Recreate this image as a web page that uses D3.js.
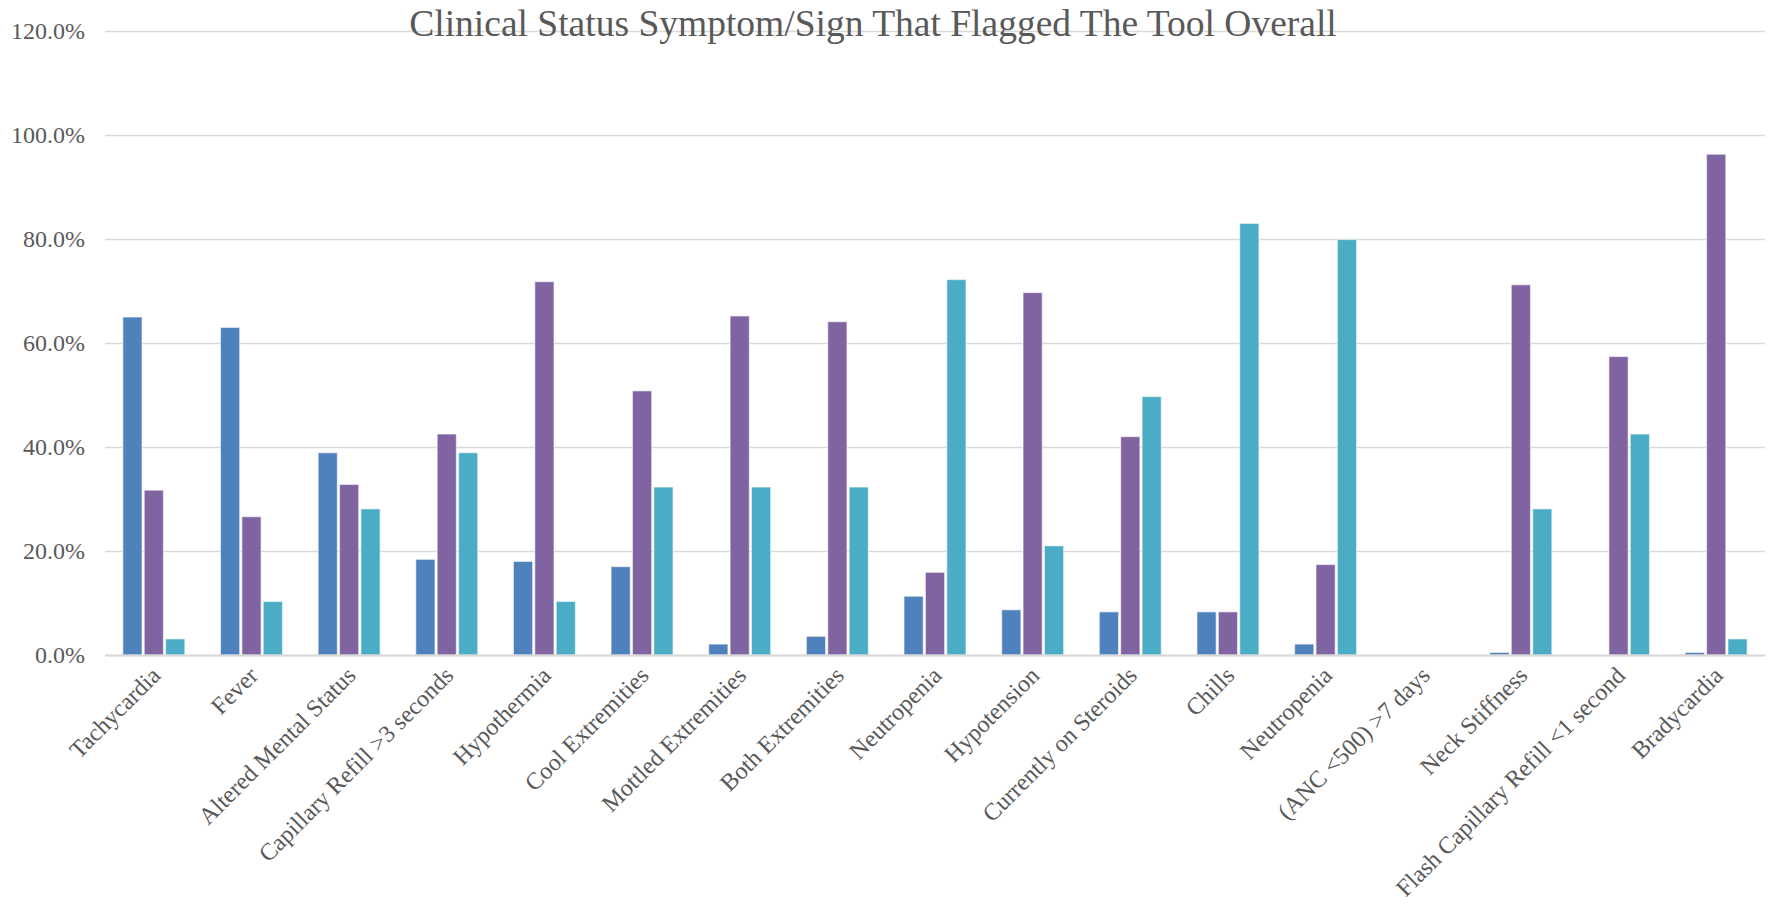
<!DOCTYPE html>
<html>
<head>
<meta charset="utf-8">
<script src="https://cdn.jsdelivr.net/npm/d3@7"></script>
<style>
  html, body { margin: 0; padding: 0; background: #ffffff; }
  svg { display: block; }
</style>
</head>
<body>
<svg id="chart" width="1774" height="905"></svg>
<script>
const categories = [
  "Tachycardia", "Fever", "Altered Mental Status", "Capillary Refill >3 seconds",
  "Hypothermia", "Cool Extremities", "Mottled Extremities", "Both Extremities",
  "Neutropenia", "Hypotension", "Currently on Steroids", "Chills", "Neutropenia",
  "(ANC <500) >7 days", "Neck Stiffness", "Flash Capillary Refill <1 second", "Bradycardia"
];
const seriesA = [65.0, 63.0, 38.9, 18.4, 18.0, 17.0, 2.1, 3.6, 11.3, 8.7, 8.3, 8.3, 2.1, 0, 0.5, 0, 0.5];
const seriesB = [31.7, 26.6, 32.8, 42.5, 71.8, 50.8, 65.2, 64.1, 15.9, 69.7, 42.0, 8.3, 17.4, 0, 71.2, 57.4, 96.3];
const seriesC = [3.1, 10.3, 28.1, 38.9, 10.3, 32.3, 32.3, 32.3, 72.2, 21.0, 49.7, 83.0, 79.9, 0, 28.1, 42.5, 3.1];
const seriesNames = ["A", "B", "C"];
const seriesColors = ["#4F81BD", "#8064A2", "#4BACC6"];
const yTicks = [0, 20, 40, 60, 80, 100, 120];
const titleText = "Clinical Status Symptom/Sign That Flagged The Tool Overall";

const W = 1774, H = 905;
const margin = { left: 105, right: 9, top: 31, bottom: 250 };
const svg = d3.select("#chart");
const fontFam = "'Liberation Serif', 'Times New Roman', serif";
const textColor = "#595959";

const x0 = d3.scaleBand()
  .domain(d3.range(categories.length))
  .range([margin.left, W - margin.right])
  .paddingInner(0.365)
  .paddingOuter(0.1825);
const x1 = d3.scaleBand()
  .domain(seriesNames)
  .range([0, x0.bandwidth()])
  .paddingInner(0.1);
const y = d3.scaleLinear().domain([0, 120]).range([655, 31]);

// gridlines
const yAxis = d3.axisLeft(y)
  .tickValues(yTicks)
  .tickSize(-(W - margin.right - margin.left))
  .tickFormat(d => d.toFixed(1) + "%")
  .tickPadding(20);
const gy = svg.append("g")
  .attr("transform", `translate(${margin.left},0)`)
  .call(yAxis);
gy.select(".domain").remove();
gy.selectAll(".tick line").attr("stroke", "#D9D9D9").attr("stroke-width", 1.5);
gy.selectAll(".tick text")
  .attr("fill", textColor)
  .style("font-family", fontFam)
  .style("font-size", "24px");

// bars
const seriesData = [seriesA, seriesB, seriesC];
const groups = svg.append("g").selectAll("g")
  .data(categories.map((c, i) => i))
  .join("g")
  .attr("transform", i => `translate(${x0(i)},0)`);
groups.selectAll("rect")
  .data(i => seriesData.map((s, k) => ({ k, v: s[i] })))
  .join("rect")
  .filter(d => d.v > 0)
  .attr("x", d => x1(seriesNames[d.k]))
  .attr("width", x1.bandwidth())
  .attr("y", d => y(d.v))
  .attr("height", d => y(0) - y(d.v))
  .attr("fill", d => seriesColors[d.k])
  .attr("stroke", "#ffffff")
  .attr("stroke-opacity", 0.55)
  .attr("stroke-width", 1.2);

// x axis
const xAxis = d3.axisBottom(x0)
  .tickSize(0)
  .tickFormat(i => categories[i]);
const gx = svg.append("g")
  .attr("transform", `translate(0,${y(0)})`)
  .call(xAxis);
gx.select(".domain").attr("stroke", "#D9D9D9").attr("stroke-width", 2);
gx.selectAll(".tick text")
  .attr("fill", textColor)
  .style("font-family", fontFam)
  .style("font-size", "24px")
  .attr("text-anchor", "end")
  .attr("dy", null)
  .attr("y", 0)
  .attr("transform", "translate(8,22) rotate(-45)");

// title
svg.append("text")
  .attr("x", 873)
  .attr("y", 36)
  .attr("text-anchor", "middle")
  .attr("fill", textColor)
  .style("font-family", fontFam)
  .style("font-size", "37.5px")
  .text(titleText);
</script>
</body>
</html>
